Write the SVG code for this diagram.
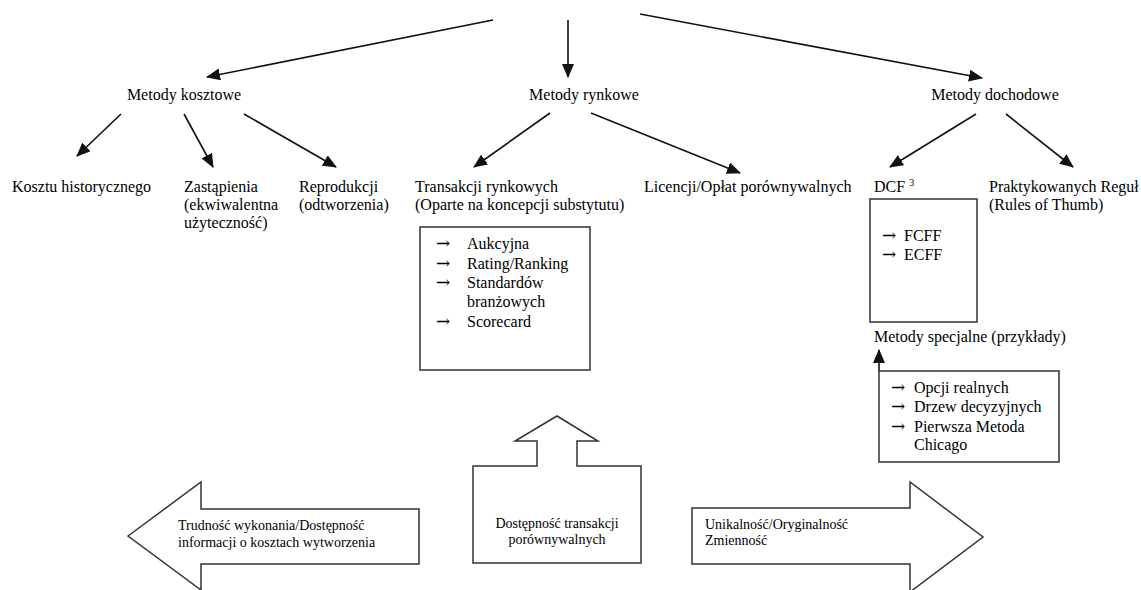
<svg xmlns="http://www.w3.org/2000/svg" width="1141" height="590" viewBox="0 0 1141 590">
<style>
text{font-family:'Liberation Serif','Times New Roman','DejaVu Serif',serif;fill:#000;}
.t{font-size:16px;}
.s{font-size:14px;}
.c{text-anchor:middle;}
.ar{font-family:'DejaVu Serif',serif;font-size:17px;}
.ln{stroke:#111;stroke-width:1.6;fill:none;}
.box{fill:#fff;stroke:#333;stroke-width:1.5;}
</style>
<defs>
<marker id="ah" markerUnits="userSpaceOnUse" markerWidth="14" markerHeight="12" refX="13" refY="6" orient="auto">
<path d="M0,0 L14,6 L0,12 Z" fill="#111"/>
</marker>
</defs>
<rect width="1141" height="590" fill="#fff"/>
<g id="connectors">
<line class="ln" x1="493" y1="20" x2="207" y2="77" marker-end="url(#ah)"/>
<line class="ln" x1="568" y1="20" x2="568" y2="77" marker-end="url(#ah)"/>
<line class="ln" x1="640" y1="14" x2="982" y2="78" marker-end="url(#ah)"/>
<line class="ln" x1="121" y1="114" x2="77" y2="156" marker-end="url(#ah)"/>
<line class="ln" x1="184" y1="114" x2="213" y2="167" marker-end="url(#ah)"/>
<line class="ln" x1="244" y1="114" x2="336" y2="167" marker-end="url(#ah)"/>
<line class="ln" x1="550" y1="113" x2="474" y2="167" marker-end="url(#ah)"/>
<line class="ln" x1="591" y1="113" x2="740" y2="173" marker-end="url(#ah)"/>
<line class="ln" x1="976" y1="114" x2="890" y2="167" marker-end="url(#ah)"/>
<line class="ln" x1="1006" y1="114" x2="1073" y2="167" marker-end="url(#ah)"/>
<line class="ln" x1="879" y1="371" x2="879" y2="350" marker-end="url(#ah)"/>
</g>
<g font-family="Liberation Serif, Times New Roman, serif">
<g id="metody-kosztowe"><text class="t c" x="184" y="100">Metody kosztowe</text></g>
<g id="metody-rynkowe"><text class="t c" x="584" y="100">Metody rynkowe</text></g>
<g id="metody-dochodowe"><text class="t c" x="995" y="100">Metody dochodowe</text></g>
<g id="kosztu-historycznego"><text class="t" x="12" y="192">Kosztu historycznego</text></g>
<g id="zastapienia"><text class="t" x="184" y="192">Zastąpienia</text><text class="t" x="184" y="210">(ekwiwalentna</text><text class="t" x="184" y="228">użyteczność)</text></g>
<g id="reprodukcji"><text class="t" x="299" y="192">Reprodukcji</text><text class="t" x="299" y="210">(odtworzenia)</text></g>
<g id="transakcji"><text class="t" x="415" y="192">Transakcji rynkowych</text><text class="t" x="415" y="210">(Oparte na koncepcji substytutu)</text></g>
<g id="licencji"><text class="t" x="644" y="192">Licencji/Opłat porównywalnych</text></g>
<g id="dcf"><text class="t" x="874" y="192">DCF <tspan font-size="10" dy="-6">3</tspan></text></g>
<g id="praktykowanych"><text class="t" x="989" y="192">Praktykowanych Reguł</text><text class="t" x="989" y="210">(Rules of Thumb)</text></g>
<g id="box-rynkowe">
<rect class="box" x="420" y="227" width="170" height="143"/>
<text class="ar" x="436" y="249">→</text><text class="t" x="467" y="249">Aukcyjna</text>
<text class="ar" x="436" y="269">→</text><text class="t" x="467" y="269">Rating/Ranking</text>
<text class="ar" x="436" y="288">→</text><text class="t" x="467" y="288">Standardów</text>
<text class="t" x="467" y="307">branżowych</text>
<text class="ar" x="436" y="327">→</text><text class="t" x="467" y="327">Scorecard</text>
</g>
<g id="box-dcf">
<rect class="box" x="870" y="199" width="107" height="123"/>
<text class="ar" x="882" y="241">→</text><text class="t" x="904" y="241">FCFF</text>
<text class="ar" x="882" y="260">→</text><text class="t" x="904" y="260">ECFF</text>
</g>
<g id="metody-specjalne"><text class="t" x="874" y="342">Metody specjalne (przykłady)</text></g>
<g id="box-specjalne">
<rect class="box" x="879" y="371" width="180" height="91"/>
<text class="ar" x="891" y="393">→</text><text class="t" x="914" y="393">Opcji realnych</text>
<text class="ar" x="891" y="412">→</text><text class="t" x="914" y="412">Drzew decyzyjnych</text>
<text class="ar" x="891" y="432">→</text><text class="t" x="914" y="432">Pierwsza Metoda</text>
<text class="t" x="914" y="450">Chicago</text>
</g>
<g id="arrow-left">
<path class="box" d="M128,536 L201,482 V509 H419 V564 H201 V590 Z"/>
<text class="s" x="178" y="530">Trudność wykonania/Dostępność</text>
<text class="s" x="178" y="547">informacji o kosztach wytworzenia</text>
</g>
<g id="arrow-up">
<path class="box" d="M473,466 H537 V441 H515 L557,416 L598,441 H577 V466 H641 V563 H473 Z"/>
<text class="s c" x="557" y="528">Dostępność transakcji</text>
<text class="s c" x="557" y="544">porównywalnych</text>
</g>
<g id="arrow-right">
<path class="box" d="M692,508 H910 V482 L983,537 L910,592 V564 H692 Z"/>
<text class="s" x="705" y="529">Unikalność/Oryginalność</text>
<text class="s" x="705" y="545">Zmienność</text>
</g>
</g>
</svg>
